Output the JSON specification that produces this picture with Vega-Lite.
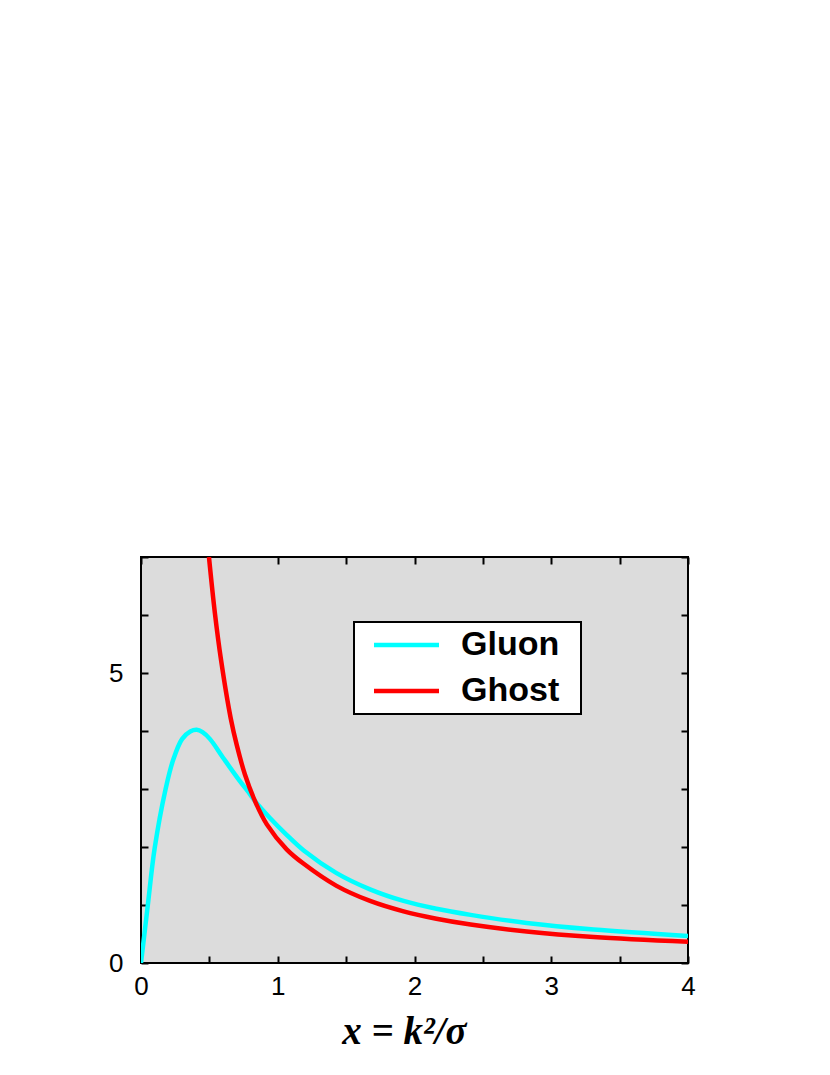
{
  "$schema": "https://vega.github.io/schema/vega-lite/v6.json",
  "width": 547,
  "height": 406,
  "autosize": {"type": "none"},
  "padding": {"left": 141, "top": 557, "right": 142, "bottom": 112},
  "background": "white",
  "config": {
    "view": {"fill": "#dcdcdc", "stroke": "black", "strokeWidth": 2},
    "font": "Liberation Sans",
    "legend": {"strokeColor": "black"}
  },
  "data": {
    "values": [
      {"x": 0, "y": 0, "series": "Gluon"},
      {"x": 0.05, "y": 1.0, "series": "Gluon"},
      {"x": 0.1, "y": 1.98, "series": "Gluon"},
      {"x": 0.18, "y": 3.0, "series": "Gluon"},
      {"x": 0.235, "y": 3.5, "series": "Gluon"},
      {"x": 0.3, "y": 3.86, "series": "Gluon"},
      {"x": 0.36, "y": 3.99, "series": "Gluon"},
      {"x": 0.407, "y": 4.02, "series": "Gluon"},
      {"x": 0.45, "y": 3.98, "series": "Gluon"},
      {"x": 0.505, "y": 3.86, "series": "Gluon"},
      {"x": 0.6, "y": 3.54, "series": "Gluon"},
      {"x": 0.7, "y": 3.21, "series": "Gluon"},
      {"x": 0.8, "y": 2.9, "series": "Gluon"},
      {"x": 0.834, "y": 2.79, "series": "Gluon"},
      {"x": 0.943, "y": 2.5, "series": "Gluon"},
      {"x": 1.065, "y": 2.21, "series": "Gluon"},
      {"x": 1.19, "y": 1.94, "series": "Gluon"},
      {"x": 1.43, "y": 1.55, "series": "Gluon"},
      {"x": 1.675, "y": 1.27, "series": "Gluon"},
      {"x": 1.92, "y": 1.07, "series": "Gluon"},
      {"x": 2.16, "y": 0.935, "series": "Gluon"},
      {"x": 2.41, "y": 0.83, "series": "Gluon"},
      {"x": 2.82, "y": 0.69, "series": "Gluon"},
      {"x": 3.31, "y": 0.577, "series": "Gluon"},
      {"x": 4.0, "y": 0.467, "series": "Gluon"},
      {"x": 0.497, "y": 7.0, "series": "Ghost"},
      {"x": 0.54, "y": 6.04, "series": "Ghost"},
      {"x": 0.585, "y": 5.23, "series": "Ghost"},
      {"x": 0.656, "y": 4.22, "series": "Ghost"},
      {"x": 0.7, "y": 3.76, "series": "Ghost"},
      {"x": 0.76, "y": 3.25, "series": "Ghost"},
      {"x": 0.834, "y": 2.79, "series": "Ghost"},
      {"x": 0.92, "y": 2.39, "series": "Ghost"},
      {"x": 1.065, "y": 1.96, "series": "Ghost"},
      {"x": 1.19, "y": 1.71, "series": "Ghost"},
      {"x": 1.43, "y": 1.33, "series": "Ghost"},
      {"x": 1.675, "y": 1.07, "series": "Ghost"},
      {"x": 1.92, "y": 0.89, "series": "Ghost"},
      {"x": 2.16, "y": 0.764, "series": "Ghost"},
      {"x": 2.41, "y": 0.664, "series": "Ghost"},
      {"x": 2.82, "y": 0.543, "series": "Ghost"},
      {"x": 3.31, "y": 0.447, "series": "Ghost"},
      {"x": 4.0, "y": 0.365, "series": "Ghost"}
    ]
  },
  "layer": [
    {
      "mark": {"type": "line", "strokeWidth": 4.5, "interpolate": "catmull-rom", "clip": true},
      "encoding": {
        "x": {
          "field": "x", "type": "quantitative",
          "scale": {"domain": [0, 4], "nice": false, "zero": false},
          "axis": {
            "orient": "bottom",
            "values": [0, 0.5, 1, 1.5, 2, 2.5, 3, 3.5, 4],
            "format": "~g",
            "labelExpr": "datum.value % 1 === 0 ? datum.label : ''",
            "domain": false, "grid": false,
            "tickSize": -7, "tickWidth": 2, "tickColor": "black",
            "labelFontSize": 26, "labelColor": "black", "labelPadding": 17,
            "labelFlush": false,
            "title": "x = k²/σ",
            "titleFont": "Liberation Serif", "titleFontStyle": "italic", "titleFontWeight": "bold",
            "titleFontSize": 39, "titleColor": "black", "titlePadding": 13,
            "titleX": 263, "titleAlign": "center"
          }
        },
        "y": {
          "field": "y", "type": "quantitative",
          "scale": {"domain": [0, 7], "nice": false},
          "axis": {
            "orient": "left",
            "values": [0, 1, 2, 3, 4, 5, 6, 7],
            "format": "~g",
            "labelExpr": "datum.value === 0 || datum.value === 5 ? datum.label : ''",
            "domain": false, "grid": false,
            "tickSize": -7, "tickWidth": 2, "tickColor": "black",
            "labelFontSize": 26, "labelColor": "black", "labelPadding": 25,
            "labelFlush": false,
            "title": null
          }
        },
        "color": {
          "field": "series", "type": "nominal",
          "scale": {"domain": ["Gluon", "Ghost"], "range": ["#00ffff", "#ff0000"]},
          "legend": {
            "title": ".",
            "titleOrient": "right",
            "titleColor": "white",
            "titleFontSize": 10,
            "titlePadding": 13,
            "orient": "none",
            "legendX": 213,
            "legendY": 65,
            "fillColor": "white",
            "padding": 6,
            "symbolType": "M-0.3,0H6.2",
            "symbolSize": 400,
            "symbolStrokeWidth": 4.5,
            "labelFontSize": 34,
            "labelFontWeight": "bold",
            "labelColor": "black",
            "labelOffset": 67,
            "rowPadding": 12,
            "encode": {"legend": {"update": {"strokeWidth": {"value": 2}}}}
          }
        }
      }
    },
    {
      "mark": {"type": "line", "strokeOpacity": 0},
      "encoding": {
        "x": {
          "field": "x", "type": "quantitative",
          "axis": {
            "orient": "top",
            "values": [0, 0.5, 1, 1.5, 2, 2.5, 3, 3.5, 4],
            "labels": false, "domain": false, "grid": false,
            "tickSize": -7, "tickWidth": 2, "tickColor": "black",
            "title": null
          }
        },
        "y": {
          "field": "y", "type": "quantitative",
          "axis": {
            "orient": "right",
            "values": [0, 1, 2, 3, 4, 5, 6, 7],
            "labels": false, "domain": false, "grid": false,
            "tickSize": -7, "tickWidth": 2, "tickColor": "black",
            "title": null
          }
        },
        "detail": {"field": "series", "type": "nominal"}
      }
    }
  ],
  "resolve": {"axis": {"x": "independent", "y": "independent"}}
}
